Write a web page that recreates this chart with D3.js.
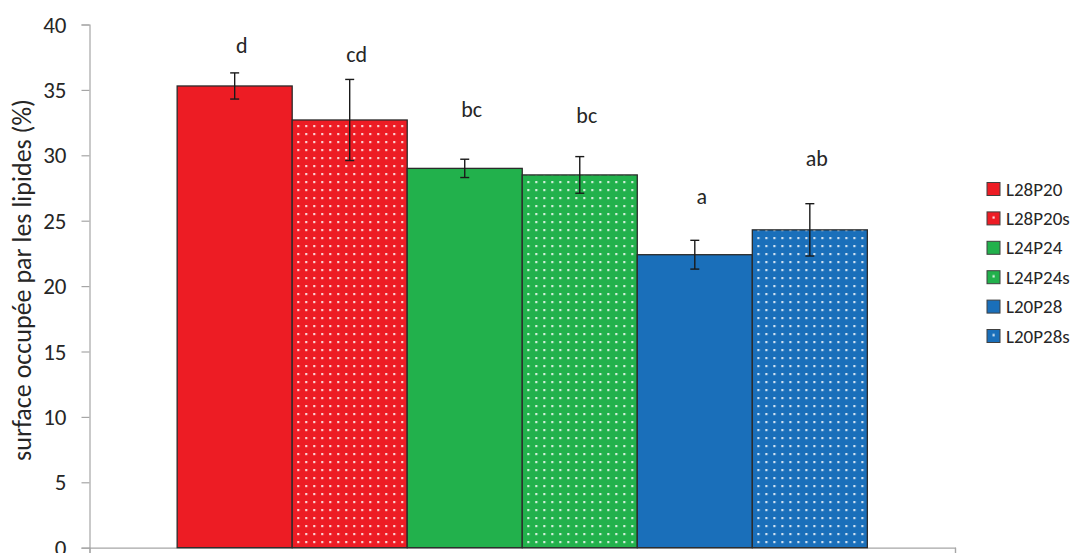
<!DOCTYPE html>
<html>
<head>
<meta charset="utf-8">
<script src="https://cdn.jsdelivr.net/npm/d3@7"></script>
<style>
  html, body { margin: 0; padding: 0; background: #fff; }
  svg { display: block; }
  text { font-family: Carlito, Lato, "Open Sans", sans-serif; fill: #262626; }
</style>
</head>
<body>
<svg id="chart" width="1085" height="553"></svg>
<script>
// ---- data ----
const categories = ["L28P20", "L28P20s", "L24P24", "L24P24s", "L20P28", "L20P28s"];
const values = [35.3, 32.7, 29.0, 28.5, 22.4, 24.3];
const errors = [1.0, 3.1, 0.7, 1.4, 1.1, 2.0];
const letters = ["d", "cd", "bc", "bc", "a", "ab"];
const letterValues = [37.8, 37.1, 32.9, 32.5, 26.3, 29.2];
const yTicks = [0, 5, 10, 15, 20, 25, 30, 35, 40];
const baseColors = ["#ED1C24", "#ED1C24", "#22B14C", "#22B14C", "#1A6FBA", "#1A6FBA"];
const dotted = [false, true, false, true, false, true];
const yTitle = "surface occupée par les lipides (%)";

// ---- layout ----
const svg = d3.select("#chart");
const plotLeft = 89.5, plotRight = 955, plotTop = 24.5, plotBottom = 547.7;

const y = d3.scaleLinear().domain([0, 40]).range([plotBottom, plotTop]);
const xGroup = d3.scaleBand().domain(["g"]).range([plotLeft, plotRight]).paddingInner(0).paddingOuter(0.127);
const x = d3.scaleBand().domain(categories).range([xGroup("g"), xGroup("g") + xGroup.bandwidth()]).padding(0);

// patterns
const defs = svg.append("defs");
categories.forEach((c, i) => {
  const p = defs.append("pattern")
    .attr("id", "pat" + i)
    .attr("patternUnits", "userSpaceOnUse")
    .attr("width", 8).attr("height", 8)
    .attr("x", x(c) + 2).attr("y", 2);
  p.append("rect").attr("width", 8).attr("height", 8).attr("fill", baseColors[i]);
  p.append("rect").attr("x", 3).attr("y", 3).attr("width", 2.2).attr("height", 2.2).attr("fill", "#fff").attr("opacity", 0.8);
});

// legend pattern (single centre dot)
categories.forEach((c, i) => {
  const p = defs.append("pattern")
    .attr("id", "lpat" + i)
    .attr("patternUnits", "objectBoundingBox")
    .attr("width", 1).attr("height", 1);
  p.append("rect").attr("width", 13).attr("height", 13).attr("fill", baseColors[i]);
  p.append("rect").attr("x", 5.5).attr("y", 4.5).attr("width", 2.2).attr("height", 2.2).attr("fill", "#fff").attr("opacity", 0.85);
});

// y axis
const yAxis = d3.axisLeft(y).tickValues(yTicks).tickSize(8).tickPadding(15).tickFormat(d3.format("d"));
const gy = svg.append("g").attr("transform", `translate(${plotLeft},0)`).call(yAxis);
gy.select(".domain").attr("stroke", "#A6A6A6").attr("stroke-width", 1.2);
gy.selectAll(".tick line").attr("stroke", "#A6A6A6").attr("stroke-width", 1.2);
gy.selectAll(".tick text").style("font-size", "23px").attr("fill", "#262626").attr("dy", "0.33em");

// x axis
const gx = svg.append("g").attr("transform", `translate(0,${plotBottom})`)
  .call(d3.axisBottom(d3.scaleLinear().domain([0, 1]).range([plotLeft, plotRight])).tickValues([0, 1]).tickSize(8).tickFormat(""));
gx.select(".domain").attr("stroke", "#A6A6A6").attr("stroke-width", 1.2);
gx.selectAll(".tick line").attr("stroke", "#A6A6A6").attr("stroke-width", 1.2);

// y title
svg.append("text")
  .attr("transform", `translate(31,280) rotate(-90)`)
  .attr("text-anchor", "middle")
  .style("font-size", "26px")
  .text(yTitle);

// bars
svg.append("g").selectAll("rect")
  .data(categories)
  .join("rect")
  .attr("x", d => x(d))
  .attr("y", (d, i) => y(values[i]))
  .attr("width", x.bandwidth())
  .attr("height", (d, i) => y(0) - y(values[i]))
  .attr("fill", (d, i) => dotted[i] ? `url(#pat${i})` : baseColors[i])
  .attr("stroke", "#2b2b2b")
  .attr("stroke-width", 1.3);

// error bars
const eb = svg.append("g").attr("stroke", "#1a1a1a").attr("stroke-width", 1.4);
categories.forEach((c, i) => {
  const cx = x(c) + x.bandwidth() / 2;
  const hi = y(values[i] + errors[i]), lo = y(values[i] - errors[i]);
  eb.append("line").attr("x1", cx).attr("x2", cx).attr("y1", hi).attr("y2", lo);
  eb.append("line").attr("x1", cx - 4.5).attr("x2", cx + 4.5).attr("y1", hi).attr("y2", hi);
  eb.append("line").attr("x1", cx - 4.5).attr("x2", cx + 4.5).attr("y1", lo).attr("y2", lo);
});

// significance letters
svg.append("g").selectAll("text")
  .data(categories)
  .join("text")
  .attr("x", d => x(d) + x.bandwidth() / 2 + 7)
  .attr("y", (d, i) => y(letterValues[i]))
  .attr("text-anchor", "middle")
  .style("font-size", "22px")
  .text((d, i) => letters[i]);

// legend
const legend = svg.append("g");
categories.forEach((c, i) => {
  const cy = 189 + i * 29.4;
  legend.append("rect")
    .attr("x", 987).attr("y", cy - 6.5)
    .attr("width", 13).attr("height", 13)
    .attr("fill", dotted[i] ? `url(#lpat${i})` : baseColors[i])
    .attr("stroke", "#404040").attr("stroke-width", 1);
  legend.append("text")
    .attr("x", 1006).attr("y", cy)
    .attr("dy", "0.35em")
    .style("font-size", "19px")
    .text(c);
});
</script>
</body>
</html>
